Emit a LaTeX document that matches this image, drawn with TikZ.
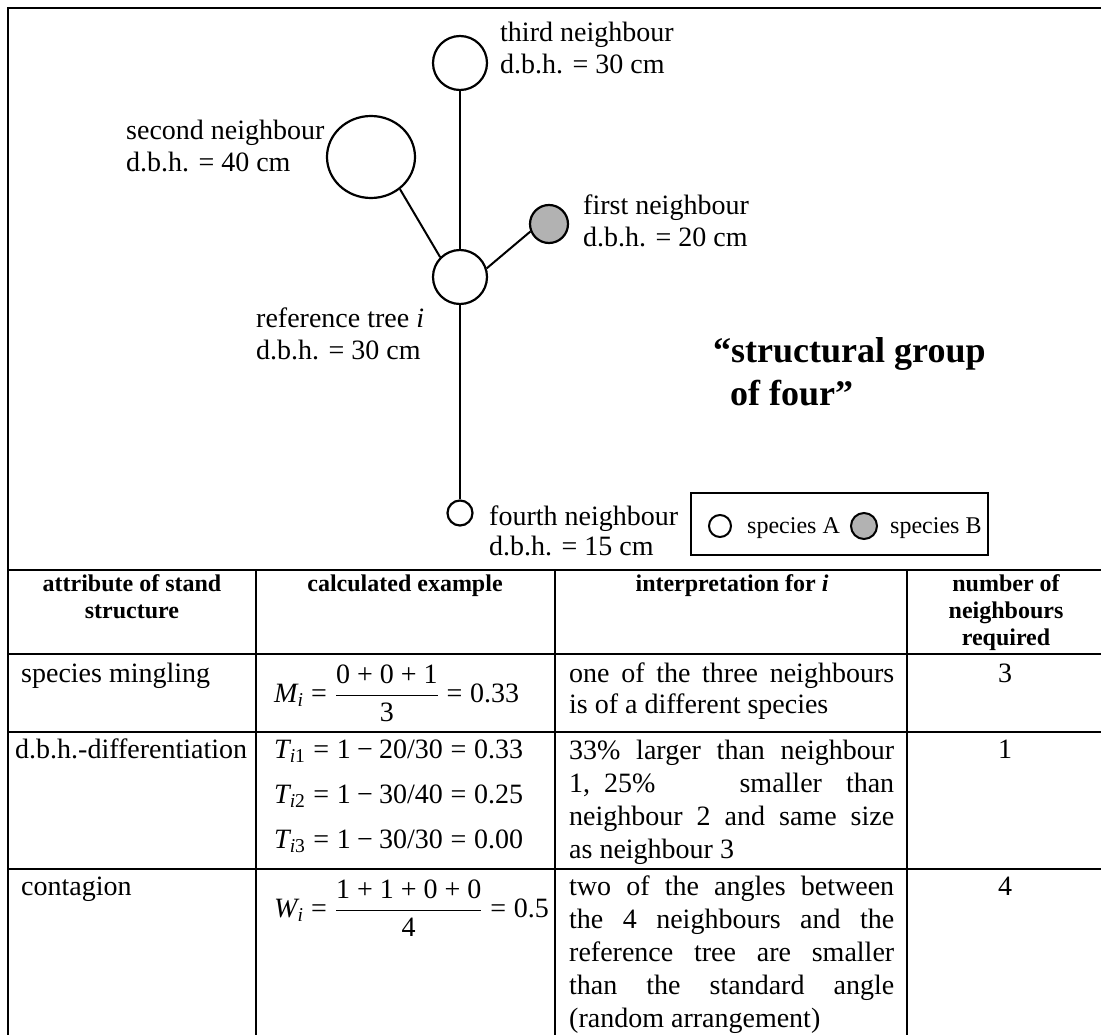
\RequirePackage{fix-cm}
\documentclass[tikz,border=0pt]{standalone}
\usepackage{amsmath}
\usepackage{fontspec}
\setmainfont{Liberation Serif}
\usetikzlibrary{shapes.geometric}

\tikzset{
  tree/.style={circle, draw, line width=2.2pt, fill=white, inner sep=0pt},
  treeB/.style={tree, fill=gray!60},
  lbl/.style={anchor=base west, inner sep=0pt, align=left, font=\fontsize{28}{32}\selectfont},
  cell/.style={anchor=base west, inner sep=0pt, align=left, font=\fontsize{28}{33}\selectfont},
  head/.style={anchor=base, inner sep=0pt, align=center, font=\fontsize{24}{27}\selectfont\bfseries},
  rule/.style={line width=2pt},
}
\newcommand{\jline}[1]{\makebox[325pt][s]{#1}}
\newcommand{\teq}{\mathrel{\text{=}}}
\newcommand{\tminus}{\mathbin{\text{−}}}

\begin{document}
\begin{tikzpicture}[x=1pt,y=1pt,yscale=-1]
    \path[use as bounding box] (0,0) rectangle (1101,1035);

    %Frame and table rules
    \draw[rule] (1101,8) -- (8,8) -- (8,1035);
    \foreach \y in {570,654,732,869} \draw[rule] (8,\y) -- (1101,\y);
    \foreach \x in {256,555,907} \draw[rule] (\x,570) -- (\x,1035);

    %Shape: Circles
    \node[tree, minimum size=54pt] (ref) at (460,277) {};
    \node[tree, minimum size=54pt] (third) at (460,63) {};
    \node[tree, ellipse, minimum width=88pt, minimum height=82pt] (second) at (371,157) {};
    \node[treeB, minimum size=38pt] (first) at (549,224) {};
    \node[tree, minimum size=25pt] (fourth) at (460,513) {};

    %Straight Lines
    \draw[rule] (ref.north) -- (third.south);
    \draw[rule] (ref.135) -- (second.-48);
    \draw[rule] (ref.18) -- (first.202);
    \draw[rule] (ref.south) -- (fourth.north);

    % Text Node
    \node[lbl] (thirdlbl) at (500,74) {third neighbour\\d.b.h. = 30 cm};
    % Text Node
    \node[lbl] (secondlbl) at (126,172) {second neighbour\\d.b.h. = 40 cm};
    % Text Node
    \node[lbl] (firstlbl) at (583,247) {first neighbour\\d.b.h. = 20 cm};
    % Text Node
    \node[lbl] (reflbl) at (256,359) {reference tree \textit{i}\\d.b.h. = 30 cm};
    % Text Node
    \node[lbl, font=\fontsize{28}{30}\selectfont] (fourthlbl) at (489,555) {fourth neighbour\\d.b.h. = 15 cm};
    % Text Node
    \node[lbl, font=\fontsize{36}{43}\selectfont\bfseries] (title) at (713,405) {``structural group\\\hspace*{17pt}of four''};

    %Legend
    \draw[line width=2.4pt] (691,493) rectangle (988,555);
    \node[tree, line width=2pt, minimum size=22pt] (legA) at (720,526) {};
    \node[lbl, font=\fontsize{24}{28}\selectfont] (legAlbl) at (747,533) {species A};
    \node[treeB, line width=2pt, minimum size=26pt] (legB) at (864,526) {};
    \node[lbl, font=\fontsize{24}{28}\selectfont] (legBlbl) at (890,533) {species B};

    % Table header
    \node[head] (hattr) at (132,618) {attribute of stand\\structure};
    \node[head] (hcalc) at (405,591) {calculated example};
    \node[head] (hint) at (732,591) {interpretation for \textit{i}};
    \node[head] (hnum) at (1006,645) {number of\\neighbours\\required};

    % Row: species mingling
    \node[cell] (mingl) at (21,682) {species mingling};
    \node[cell, anchor=west] (mingf) at (274,693) {$\mathit{M}_{\mathit{i}} \teq \dfrac{\text{0 + 0 + 1}}{\text{3}} \teq \text{0.33}$};
    \node[cell, font=\fontsize{28}{31}\selectfont] (mingi) at (569,713) {\jline{one of the three neighbours}\\is of a different species};
    \node[cell, anchor=base] (mingn) at (1005,682) {3};

    % Row: d.b.h.-differentiation
    \node[cell] (diffl) at (15,758) {d.b.h.-differentiation};
    \node[cell, font=\fontsize{28}{45}\selectfont] (difff) at (274,848) {$\mathit{T}_{\mathit{i}\text{1}} \teq \text{1} \tminus \text{20/30} \teq \text{0.33}$\\$\mathit{T}_{\mathit{i}\text{2}} \teq \text{1} \tminus \text{30/40} \teq \text{0.25}$\\$\mathit{T}_{\mathit{i}\text{3}} \teq \text{1} \tminus \text{30/30} \teq \text{0.00}$};
    \node[cell] (diffi) at (569,858) {\jline{33\% larger than neighbour}\\\jline{1,\hspace{14pt}25\%\hfill smaller\hspace{24pt}than}\\\jline{neighbour 2 and same size}\\as neighbour 3};
    \node[cell, anchor=base] (diffn) at (1005,758) {1};

    % Row: contagion
    \node[cell] (contl) at (21,895) {contagion};
    \node[cell, anchor=west] (contf) at (274,908) {$\mathit{W}_{\mathit{i}} \teq \dfrac{\text{1 + 1 + 0 + 0}}{\text{4}} \teq \text{0.5}$};
    \node[cell] (conti) at (569,1027) {\jline{two of the angles between}\\\jline{the 4 neighbours and the}\\\jline{reference tree are smaller}\\\jline{than the standard angle}\\(random arrangement)};
    \node[cell, anchor=base] (contn) at (1005,895) {4};
\end{tikzpicture}
\end{document}
